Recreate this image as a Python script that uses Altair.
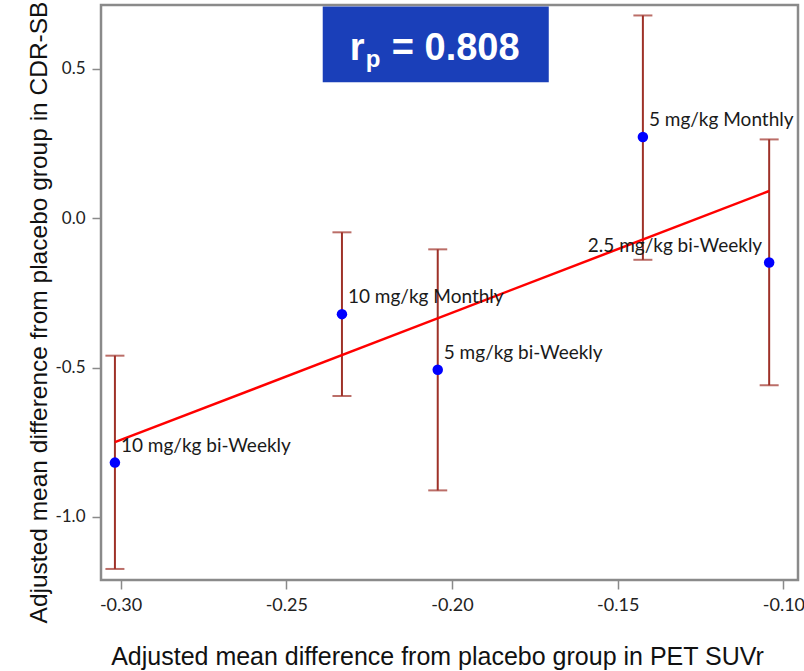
import altair as alt
import pandas as pd

# ---- data ----
doses = ["10 mg/kg bi-Weekly", "10 mg/kg Monthly", "5 mg/kg bi-Weekly",
         "5 mg/kg Monthly", "2.5 mg/kg bi-Weekly"]
suvr = [-0.3017, -0.2332, -0.2043, -0.1424, -0.1043]
cdr = [-0.818, -0.321, -0.507, 0.272, -0.148]
ci_low = [-1.174, -0.595, -0.911, -0.139, -0.559]
ci_high = [-0.460, -0.047, -0.104, 0.679, 0.264]

x_ticks = [-0.30, -0.25, -0.20, -0.15, -0.10]
y_ticks = [-1.0, -0.5, 0.0, 0.5]
x_domain = [-0.3059, -0.0956]
y_domain = [-1.211, 0.714]

r_value = "= 0.808"
box_x = [-0.2390, -0.1708]
box_y = [0.455, 0.709]

x_title = "Adjusted mean difference from placebo group in PET SUVr"
y_title = "Adjusted mean difference from placebo group in CDR-SB"

df = pd.DataFrame({"dose": doses, "x": suvr, "y": cdr, "lo": ci_low, "hi": ci_high})
box = pd.DataFrame({"x": [box_x[0]], "x2": [box_x[1]], "y": [box_y[0]], "y2": [box_y[1]],
                    "cx": [sum(box_x) / 2], "cy": [sum(box_y) / 2]})

xs = alt.Scale(domain=x_domain, nice=False, zero=False)
ys = alt.Scale(domain=y_domain, nice=False, zero=False)

ERR = "#9e3128"
LABEL_FONT = "Lato"

x_axis = alt.Axis(values=x_ticks, labelExpr="replace(format(datum.value, '.2f'), '\u2212', '-')",
                  title=x_title, grid=False, domain=False, tickColor="#8a8a8a", tickSize=9,
                  tickWidth=1.5, labelFont=LABEL_FONT, labelFontSize=18,
                  labelColor="#222", labelPadding=7,
                  titleFont="Liberation Sans", titleFontSize=25, titleFontWeight="normal",
                  titleColor="#111", titleX=336, titleY=76, titleBaseline="middle")
y_axis = alt.Axis(values=y_ticks, labelExpr="replace(format(datum.value, '.1f'), '\u2212', '-')",
                  title=y_title, grid=False, domain=False, tickColor="#8a8a8a", tickSize=9,
                  tickWidth=1.5, labelFont=LABEL_FONT, labelFontSize=17,
                  labelColor="#222", labelPadding=7,
                  titleFont="Liberation Sans", titleFontSize=24.5, titleFontWeight="normal",
                  titleColor="#111", titleX=-50, titleY=307, titleBaseline="bottom",
                  titleAngle=270)

base = alt.Chart(df)

err = base.mark_rule(color=ERR, strokeWidth=2).encode(
    x=alt.X("x:Q", scale=xs, axis=x_axis),
    y=alt.Y("lo:Q", scale=ys, axis=y_axis),
    y2="hi:Q",
)
cap_lo = base.mark_tick(color=ERR, orient="horizontal", size=19, thickness=2).encode(
    x=alt.X("x:Q", scale=xs), y=alt.Y("lo:Q", scale=ys))
cap_hi = base.mark_tick(color=ERR, orient="horizontal", size=19, thickness=2).encode(
    x=alt.X("x:Q", scale=xs), y=alt.Y("hi:Q", scale=ys))

reg = base.transform_regression("x", "y").mark_line(color="#ff0000", strokeWidth=2.5).encode(
    x=alt.X("x:Q", scale=xs), y=alt.Y("y:Q", scale=ys))

pts = base.mark_circle(color="#0000ff", opacity=1, size=110).encode(
    x=alt.X("x:Q", scale=xs), y=alt.Y("y:Q", scale=ys))

lab_left = base.transform_filter(alt.datum.dose != doses[4]).mark_text(
    align="left", baseline="middle", dx=6, dy=-17, font=LABEL_FONT, fontSize=19, color="#1a1a1a"
).encode(x=alt.X("x:Q", scale=xs), y=alt.Y("y:Q", scale=ys), text="dose:N")
lab_right = base.transform_filter(alt.datum.dose == doses[4]).mark_text(
    align="right", baseline="middle", dx=-7, dy=-16, font=LABEL_FONT, fontSize=19, color="#1a1a1a"
).encode(x=alt.X("x:Q", scale=xs), y=alt.Y("y:Q", scale=ys), text="dose:N")

bchart = alt.Chart(box)
rect = bchart.mark_rect(color="#1a3fb9").encode(
    x=alt.X("x:Q", scale=xs), x2="x2:Q", y=alt.Y("y:Q", scale=ys), y2="y2:Q")
t_r = bchart.mark_text(text="r", align="left", baseline="alphabetic", dx=-86, dy=16,
                       font="Liberation Sans", fontSize=38, fontWeight="bold", color="white").encode(
    x=alt.X("cx:Q", scale=xs), y=alt.Y("cy:Q", scale=ys))
t_p = bchart.mark_text(text="p", align="left", baseline="alphabetic", dx=-70, dy=23,
                       font="Liberation Sans", fontSize=24, fontWeight="bold", color="white").encode(
    x=alt.X("cx:Q", scale=xs), y=alt.Y("cy:Q", scale=ys))
t_v = bchart.mark_text(text=r_value, align="left", baseline="alphabetic", dx=-44, dy=16,
                       font="Liberation Sans", fontSize=38, fontWeight="bold", color="white").encode(
    x=alt.X("cx:Q", scale=xs), y=alt.Y("cy:Q", scale=ys))

chart = alt.layer(err, cap_lo, cap_hi, reg, pts, lab_left, lab_right, rect, t_r, t_p, t_v).properties(
    width=697, height=575,
    autosize=alt.AutoSizeParams(type="none"),
    padding={"left": 101, "top": 5, "right": 6, "bottom": 91},
    background="white",
).configure_view(stroke="#8a8a8a", strokeWidth=2.5)

chart.save("out.html", embed_options={"renderer": "svg", "actions": False})
